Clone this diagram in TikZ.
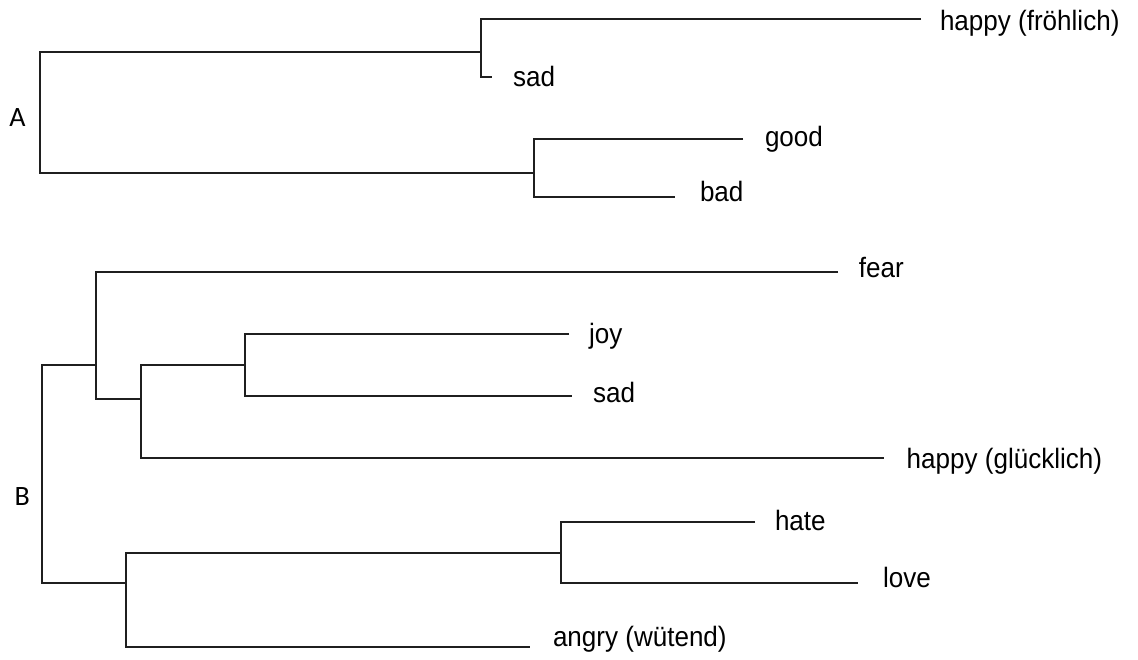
\documentclass[tikz,border=0pt]{standalone}
\usepackage{fontspec}
\setmainfont{Liberation Sans}[FakeStretch=0.93]
\newfontfamily\calib{Carlito}
\begin{document}
\begin{tikzpicture}[x=1pt,y=-1pt,
  branch/.style={line width=2.3pt, draw=black!88, line join=miter},
  leaf/.style={anchor=base west, inner sep=0pt, outer sep=0pt, font=\fontsize{28}{32}\selectfont, text=black},
  grp/.style={anchor=base west, inner sep=0pt, outer sep=0pt, font=\calib\fontsize{28}{32}\selectfont, text=black}]
\useasboundingbox (0,0) rectangle (1138,659);

% ---------- Tree A ----------
\coordinate (A0t) at (40,52);
\coordinate (A0b) at (40,173);
\coordinate (A1m) at (481,52);
\coordinate (A1t) at (481,19);
\coordinate (A1b) at (481,77);
\coordinate (A2m) at (534,173);
\coordinate (A2t) at (534,139);
\coordinate (A2b) at (534,197);
\coordinate (eHappyF) at (921,19);
\coordinate (eSadA) at (492,77);
\coordinate (eGood) at (743,139);
\coordinate (eBad) at (675,197);

\node[leaf] (happyF) at (940,30.7) {happy (fröhlich)};
\node[leaf] (sadA) at (513,86) {sad};
\node[leaf] (good) at (765,146.7) {good};
\node[leaf] (bad) at (700,201.7) {bad};
\node[grp] (labA) at (9.3,126) {A};

\draw[branch] (A1m) -- (A0t) -- (A0b) -- (A2m);
\draw[branch] (eHappyF) -- (A1t) -- (A1b) -- (eSadA);
\draw[branch] (eGood) -- (A2t) -- (A2b) -- (eBad);

% ---------- Tree B ----------
\coordinate (B0t) at (42,365);
\coordinate (B0b) at (42,583);
\coordinate (B1m) at (96,365);
\coordinate (B1t) at (96,272);
\coordinate (B1b) at (96,399);
\coordinate (B2m) at (141,399);
\coordinate (B2t) at (141,365);
\coordinate (B2b) at (141,458);
\coordinate (B3m) at (245,365);
\coordinate (B3t) at (245,334);
\coordinate (B3b) at (245,396);
\coordinate (B4m) at (126,583);
\coordinate (B4t) at (126,553);
\coordinate (B4b) at (126,647);
\coordinate (B5m) at (561,553);
\coordinate (B5t) at (561,522);
\coordinate (B5b) at (561,583);
\coordinate (eFear) at (838,272);
\coordinate (eJoy) at (569,334);
\coordinate (eSadB) at (572,396);
\coordinate (eHappyG) at (884,458);
\coordinate (eHate) at (755,522);
\coordinate (eLove) at (858,583);
\coordinate (eAngry) at (530,647);

\node[leaf] (fear) at (858.8,277.3) {fear};
\node[leaf] (joy) at (589,343.3) {joy};
\node[leaf] (sadB) at (593,402.7) {sad};
\node[leaf] (happyG) at (906.7,468.3) {happy (glücklich)};
\node[leaf] (hate) at (775,530) {hate};
\node[leaf] (love) at (883,587.3) {love};
\node[leaf] (angry) at (553,646.7) {angry (wütend)};
\node[grp] (labB) at (14.5,505) {B};

\draw[branch] (B1m) -- (B0t) -- (B0b) -- (B4m);
\draw[branch] (eFear) -- (B1t) -- (B1b) -- (B2m);
\draw[branch] (B3m) -- (B2t) -- (B2b) -- (eHappyG);
\draw[branch] (eJoy) -- (B3t) -- (B3b) -- (eSadB);
\draw[branch] (B5m) -- (B4t) -- (B4b) -- (eAngry);
\draw[branch] (eHate) -- (B5t) -- (B5b) -- (eLove);
\end{tikzpicture}
\end{document}
